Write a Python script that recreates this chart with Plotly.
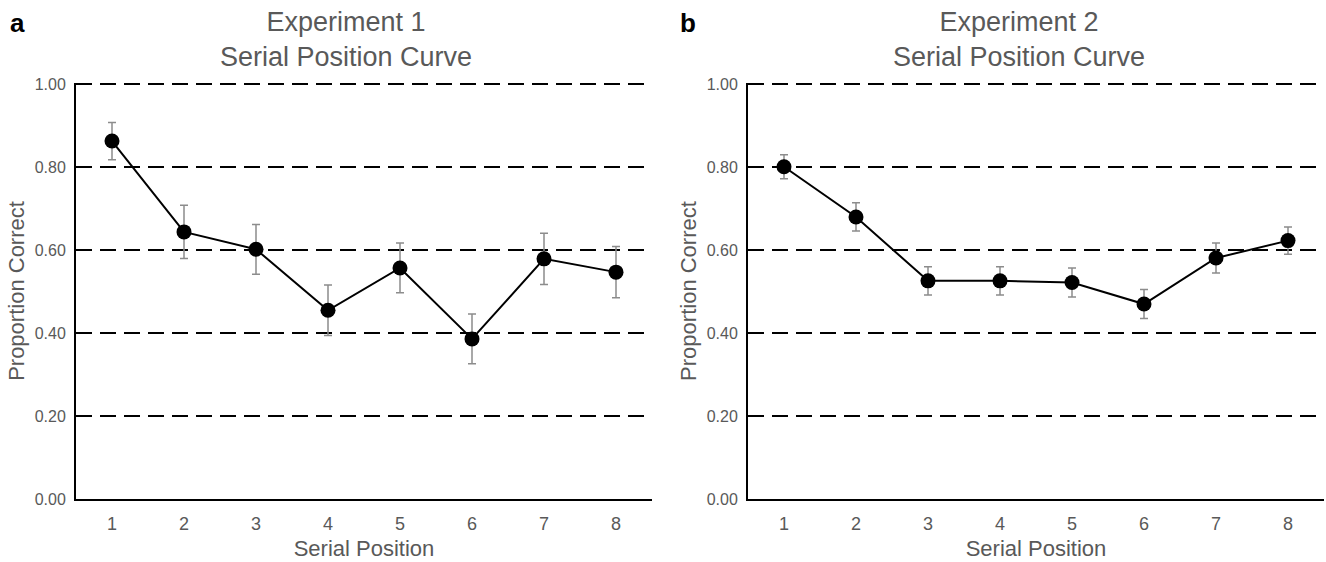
import plotly.graph_objects as go

positions = [1, 2, 3, 4, 5, 6, 7, 8]
tick_labels = ["1", "2", "3", "4", "5", "6", "7", "8"]

exp1_mean = [0.863, 0.644, 0.602, 0.455, 0.557, 0.386, 0.579, 0.547]
exp1_err = [0.045, 0.064, 0.060, 0.061, 0.060, 0.060, 0.062, 0.062]

exp2_mean = [0.801, 0.680, 0.526, 0.526, 0.522, 0.470, 0.581, 0.623]
exp2_err = [0.029, 0.034, 0.034, 0.034, 0.035, 0.035, 0.036, 0.033]

y_ticks = [0.0, 0.2, 0.4, 0.6, 0.8, 1.0]
y_tick_text = ["0.00", "0.20", "0.40", "0.60", "0.80", "1.00"]

FONT = "Liberation Sans, Arial, sans-serif"
GRAY = "#595959"

fig = go.Figure()

for i, (m, e) in enumerate([(exp1_mean, exp1_err), (exp2_mean, exp2_err)]):
    suffix = "" if i == 0 else "2"
    fig.add_trace(go.Scatter(
        x=positions, y=m,
        mode="lines+markers",
        line=dict(color="black", width=2),
        marker=dict(color="black", size=15),
        error_y=dict(type="data", array=e, visible=True, color="#8c8c8c", thickness=1.5, width=4),
        xaxis="x" + suffix, yaxis="y" + suffix,
        showlegend=False,
    ))

W, H = 1326, 562
ybot = (H - 499) / H
ytop = (H - 84) / H

axis_common_x = dict(
    range=[0.5, 8.5], tickmode="array", tickvals=positions, ticktext=tick_labels,
    showgrid=False, zeroline=False, showline=True, linecolor="black", linewidth=2,
    ticks="", tickfont=dict(family=FONT, size=18, color=GRAY), ticklabelstandoff=7,
    automargin=False,
    title=dict(text="Serial Position", font=dict(family=FONT, size=22, color=GRAY), standoff=8),
)
axis_common_y = dict(
    range=[0, 1.003], tickmode="array", tickvals=y_ticks, ticktext=y_tick_text,
    showgrid=True, gridcolor="black", gridwidth=2, griddash="16px,8px",
    zeroline=False, showline=True, linecolor="black", linewidth=2,
    ticks="", tickfont=dict(family=FONT, size=16, color=GRAY), ticklabelstandoff=5,
    automargin=False,
    title=dict(text="Proportion Correct", font=dict(family=FONT, size=22, color=GRAY), standoff=4),
    domain=[ybot, ytop + 1 / H],
)

fig.update_layout(
    width=W, height=H,
    margin=dict(l=0, r=0, t=0, b=0),
    paper_bgcolor="white", plot_bgcolor="white",
    xaxis=dict(domain=[76 / W, 652 / W], anchor="y", **axis_common_x),
    yaxis=dict(anchor="x", **axis_common_y),
    xaxis2=dict(domain=[748 / W, 1324 / W], anchor="y2", **axis_common_x),
    yaxis2=dict(anchor="x2", **axis_common_y),
    annotations=[
        dict(text="Experiment 1<br>Serial Position Curve", x=346 / W, y=1 - 5 / H, xref="paper", yref="paper",
             xanchor="center", yanchor="top", showarrow=False,
             font=dict(family=FONT, size=27, color=GRAY)),
        dict(text="Experiment 2<br>Serial Position Curve", x=1019 / W, y=1 - 5 / H, xref="paper", yref="paper",
             xanchor="center", yanchor="top", showarrow=False,
             font=dict(family=FONT, size=27, color=GRAY)),
        dict(text="<b>a</b>", x=8 / W, y=1 - 6 / H, xref="paper", yref="paper",
             xanchor="left", yanchor="top", showarrow=False,
             font=dict(family=FONT, size=26, color="black")),
        dict(text="<b>b</b>", x=678 / W, y=1 - 6 / H, xref="paper", yref="paper",
             xanchor="left", yanchor="top", showarrow=False,
             font=dict(family=FONT, size=26, color="black")),
    ],
)

fig.write_html("out.html", config={"displayModeBar": False},
               post_script="document.body.style.margin='0';")
